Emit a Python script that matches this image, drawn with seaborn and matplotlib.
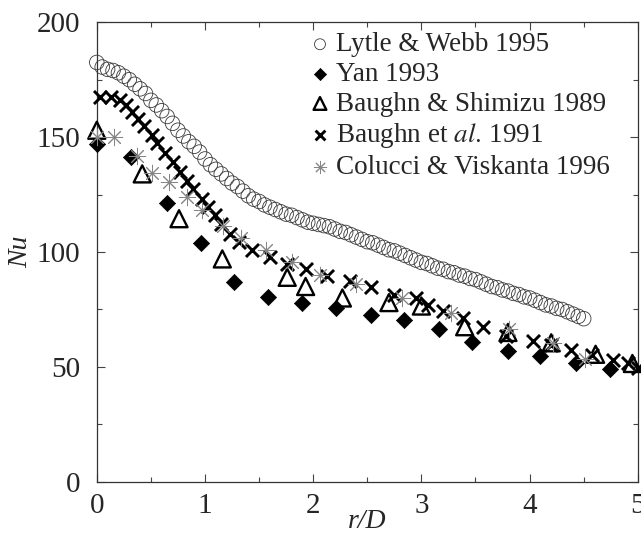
import numpy as np
import pandas as pd
import matplotlib
matplotlib.use("Agg")
import matplotlib.pyplot as plt
import seaborn as sns

# Stagnation-region Nusselt number vs radial distance, several studies
lw_r = [0.00, 0.05, 0.10, 0.15, 0.20, 0.25, 0.30, 0.35, 0.40, 0.45,
        0.50, 0.55, 0.60, 0.65, 0.70, 0.75, 0.80, 0.85, 0.90, 0.95,
        1.00, 1.05, 1.10, 1.15, 1.20, 1.25, 1.30, 1.35, 1.40, 1.45,
        1.50, 1.55, 1.60, 1.65, 1.70, 1.75, 1.80, 1.85, 1.90, 1.95,
        2.00, 2.05, 2.10, 2.15, 2.20, 2.25, 2.30, 2.35, 2.40, 2.45,
        2.50, 2.55, 2.60, 2.65, 2.70, 2.75, 2.80, 2.85, 2.90, 2.95,
        3.00, 3.05, 3.10, 3.15, 3.20, 3.25, 3.30, 3.35, 3.40, 3.45,
        3.50, 3.55, 3.60, 3.65, 3.70, 3.75, 3.80, 3.85, 3.90, 3.95,
        4.00, 4.05, 4.10, 4.15, 4.20, 4.25, 4.30, 4.35, 4.40, 4.45, 4.50]
lw_nu = [182.5, 180.5, 179.5, 179.0, 178.0, 176.5, 175.0, 173.0, 171.0, 169.0,
         166.0, 164.0, 161.5, 159.0, 156.0, 153.0, 150.5, 148.0, 146.0, 143.5,
         140.5, 138.0, 136.0, 134.0, 132.0, 130.0, 128.5, 126.5, 124.5, 123.0,
         122.0, 120.5, 119.5, 118.5, 117.5, 116.5, 116.0, 115.0, 114.0, 113.0,
         112.5, 112.0, 111.5, 111.0, 110.0, 109.0, 108.5, 107.5, 106.5, 105.5,
         104.5, 104.0, 103.0, 102.0, 101.0, 100.5, 99.5, 98.5, 97.5, 96.5,
         95.5, 95.0, 94.0, 93.0, 92.5, 91.5, 91.0, 90.0, 89.5, 88.5,
         88.0, 87.0, 86.0, 85.0, 84.5, 83.5, 83.0, 82.0, 81.5, 80.5,
         80.0, 79.0, 78.0, 77.0, 76.5, 75.5, 75.0, 74.0, 73.0, 72.0, 71.0]

yan_r = [0.00, 0.32, 0.65, 0.96, 1.27, 1.58, 1.90, 2.21, 2.53, 2.84,
         3.16, 3.47, 3.80, 4.10, 4.43, 4.74]
yan_nu = [147.0, 141.5, 121.5, 104.0, 87.0, 80.5, 78.0, 75.7, 72.6, 70.4,
          66.5, 61.0, 57.0, 54.8, 51.7, 49.1]

bs_r = [0.00, 0.42, 0.76, 1.16, 1.76, 1.93, 2.27, 2.70, 3.00, 3.40,
        3.80, 4.20, 4.61, 4.95]
bs_nu = [153.0, 134.0, 114.5, 97.0, 89.0, 85.0, 80.0, 78.0, 76.5, 67.5,
         65.0, 60.5, 55.5, 51.5]

bal_r = [0.03, 0.13, 0.21, 0.27, 0.33, 0.38, 0.44, 0.51, 0.56, 0.63,
         0.70, 0.77, 0.83, 0.89, 0.97, 1.03, 1.09, 1.15, 1.23, 1.31,
         1.43, 1.60, 1.76, 1.93, 2.13, 2.34, 2.53, 2.75, 2.95, 3.06,
         3.20, 3.38, 3.57, 3.78, 4.03, 4.20, 4.38, 4.58, 4.77, 4.91, 5.00]
bal_nu = [167.5, 167.5, 166.0, 164.0, 161.0, 158.0, 155.0, 151.0, 147.5, 143.0,
          139.0, 135.0, 131.0, 127.5, 123.0, 119.5, 116.0, 112.0, 108.0, 104.5,
          100.8, 97.8, 95.0, 92.5, 89.7, 87.2, 84.7, 81.5, 80.0, 77.0,
          74.4, 71.2, 67.4, 63.5, 61.5, 59.5, 57.3, 55.0, 53.0, 51.5, 49.7]

cv_r = [0.00, 0.16, 0.37, 0.51, 0.67, 0.83, 0.97, 1.17, 1.33, 1.56,
        1.80, 2.06, 2.40, 2.82, 3.27, 3.81, 4.22, 4.51]
cv_nu = [150.0, 150.0, 142.0, 134.5, 130.5, 124.0, 118.3, 111.5, 106.0, 101.0,
         95.5, 90.0, 86.0, 80.0, 73.5, 66.5, 60.5, 53.5]

labels = ["Lytle & Webb 1995", "Yan 1993", "Baughn & Shimizu 1989",
          r"Baughn et $\mathit{al.}\,$1991", "Colucci & Viskanta 1996"]

xticks = [0, 1, 2, 3, 4, 5]
yticks = [0, 50, 100, 150, 200]

sns.set_style("ticks")
plt.rcParams["font.family"] = ["Liberation Serif", "DejaVu Serif"]
plt.rcParams["mathtext.fontset"] = "stix"
plt.rcParams["xtick.direction"] = "in"
plt.rcParams["ytick.direction"] = "in"

fig = plt.figure(figsize=(6.41, 5.42), dpi=100)
ax = fig.add_axes([0.151, 0.111, 0.844, 0.848])

asterisk = (8, 2, 0)

sns.scatterplot(x=lw_r, y=lw_nu, ax=ax, marker="o", s=110,
                facecolors="none", edgecolor="#3a3a3a", linewidth=0.6,
                label=labels[0], zorder=3)
sns.scatterplot(x=yan_r, y=yan_nu, ax=ax, marker="D", s=68,
                color="black", edgecolor="black", linewidth=0.5,
                label=labels[1], zorder=4)
sns.scatterplot(x=bs_r, y=bs_nu, ax=ax, marker="^", s=150,
                facecolors="none", edgecolor="black", linewidth=1.7,
                label=labels[2], zorder=4)
sns.scatterplot(x=bal_r, y=bal_nu, ax=ax, marker="x", s=88,
                color="black", linewidth=2.1,
                label=labels[3], zorder=5)
sns.scatterplot(x=cv_r, y=cv_nu, ax=ax, marker=asterisk, s=140,
                color="#858585", linewidth=0.7,
                label=labels[4], zorder=5)

for coll in ax.collections:
    coll.set_clip_on(False)

ax.set_xlim(0, 5)
ax.set_ylim(0, 200)
ax.set_xticks(xticks)
ax.set_yticks(yticks)
ax.set_xticks(np.arange(0, 5.01, 0.5), minor=True)
ax.set_yticks(np.arange(0, 200.1, 25), minor=True)
ax.tick_params(which="both", top=True, right=True, labelsize=21,
               color="#444444", width=0.8)
ax.tick_params(which="major", length=6)
ax.tick_params(which="minor", length=3.5)
ax.tick_params(axis="x", which="major", pad=8)
ax.tick_params(axis="y", which="major", pad=12)
for sp in ax.spines.values():
    sp.set_linewidth(0.9)
    sp.set_color("#333333")

ax.set_xlabel("r/D", fontsize=20, style="italic", labelpad=-7)
ax.set_ylabel("Nu", fontsize=20, style="italic", labelpad=2)

leg = ax.legend(loc="upper left", bbox_to_anchor=(0.39, 0.978), frameon=False,
                fontsize=19.5, handletextpad=0.15, handlelength=0.9,
                labelspacing=0.17, borderpad=0, borderaxespad=0,
                markerscale=0.75)

fig.savefig("out.png", dpi=100)
